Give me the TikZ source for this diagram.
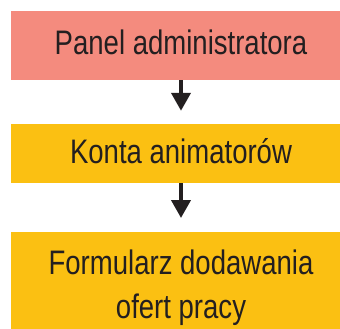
\documentclass[tikz,border=0pt]{standalone}
\usepackage{fontspec}
\setmainfont[FakeStretch=0.81]{Liberation Sans}
\usetikzlibrary{arrows.meta}
\definecolor{salmon}{RGB}{244,139,126}
\definecolor{ochre}{RGB}{251,192,18}
\definecolor{ink}{RGB}{35,31,32}
\tikzset{
  box/.style={rectangle, inner sep=0pt, minimum width=340pt, text=ink,
    font=\fontsize{34pt}{44pt}\selectfont, text height=23pt, text depth=4pt},
  flow/.style={draw=ink, line width=4pt, -{Triangle[width=19pt,length=18pt]}},
}
\begin{document}
\begin{tikzpicture}[x=1pt,y=1pt]
\useasboundingbox (0,0) rectangle (340,-329);
\begin{scope}
\clip (0,0) rectangle (340,-329);
\node[box, fill=salmon, minimum height=69pt] (a) at (181,-45.5) {Panel administratora};
\node[box, fill=ochre, minimum height=59pt] (b) at (181,-153.5) {Konta animatorów};
\node[box, fill=ochre, minimum height=110pt, anchor=north] (c) at (181,-232) {};
\node[text=ink, font=\fontsize{34pt}{44pt}\selectfont, align=center, anchor=base, inner sep=0pt] (ct) at (181,-318.5) {Formularz dodawania\\ofert pracy};
\end{scope}
\draw[flow, shorten >=13pt] (a.south) -- (b.north);
\draw[flow, shorten >=14pt] (b.south) -- (c.north);
\end{tikzpicture}
\end{document}
